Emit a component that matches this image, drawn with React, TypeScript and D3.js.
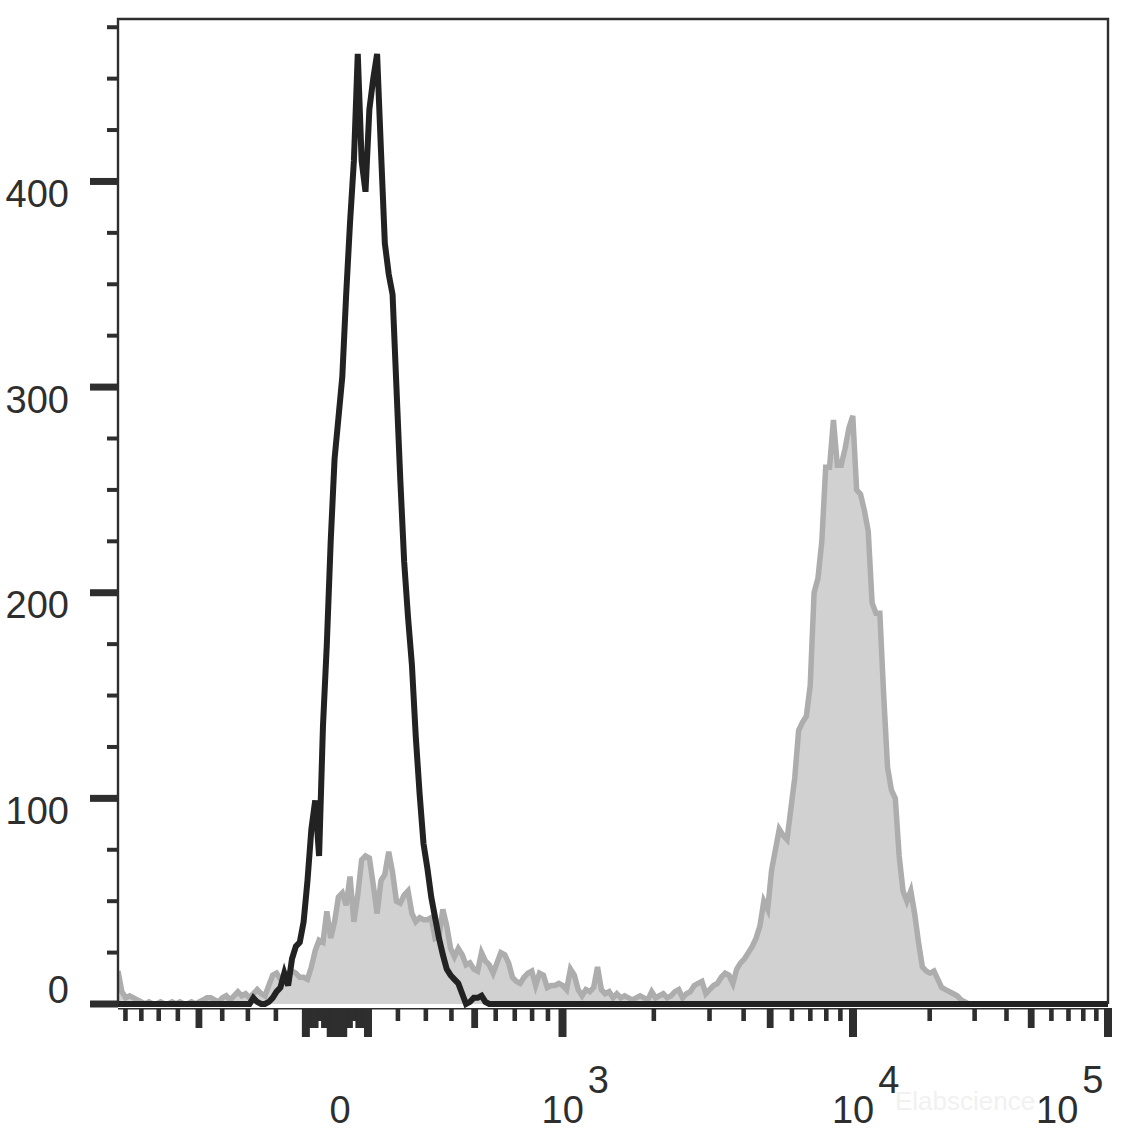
import React, { useRef, useEffect } from "react";
import * as d3 from "d3";

// histogram counts, one value per display channel (256 channels across the axis)
const channelCount = 256;

// unstained / isotype control (black line), channels 33..96
const blackStart = 33;
const blackCounts = [
  0, 0, 3, 1, 0, 0, 1, 3, 6, 8,
  15, 9, 22, 28, 30, 40, 60, 85, 99, 72,
  135, 175, 225, 265, 285, 305, 345, 380, 410, 462,
  410, 395, 435, 450, 462, 415, 370, 355, 345, 300,
  255, 215, 188, 165, 130, 102, 78, 66, 52, 42,
  32, 24, 17, 14, 12, 10, 5, 0, 1, 3,
  3, 4, 1, 0,
];

// stained sample (grey filled), channels 0..220
const grayStart = 0;
const grayCounts = [
  16, 6, 3, 4, 3, 2, 1, 0, 1, 0,
  0, 1, 0, 0, 1, 0, 1, 0, 0, 1,
  0, 1, 2, 3, 3, 2, 1, 3, 4, 2,
  4, 6, 4, 5, 3, 5, 7, 5, 4, 9,
  14, 15, 12, 14, 15, 16, 15, 13, 13, 12,
  18, 26, 31, 30, 45, 32, 40, 52, 54, 48,
  62, 40, 53, 70, 72, 71, 58, 44, 60, 63,
  74, 64, 50, 49, 53, 55, 44, 40, 42, 41,
  41, 42, 32, 33, 46, 38, 27, 23, 27, 24,
  19, 20, 17, 16, 25, 21, 19, 15, 20, 25,
  24, 20, 13, 11, 10, 13, 15, 16, 9, 15,
  14, 8, 9, 9, 10, 9, 7, 17, 14, 7,
  4, 7, 6, 8, 18, 7, 5, 6, 3, 5,
  3, 4, 3, 2, 3, 4, 3, 2, 6, 3,
  4, 5, 3, 4, 6, 7, 3, 5, 6, 9,
  10, 11, 5, 7, 9, 10, 13, 15, 14, 10,
  17, 20, 22, 25, 28, 32, 38, 50, 46, 65,
  75, 85, 82, 80, 95, 110, 133, 137, 140, 155,
  200, 207, 225, 261, 261, 284, 262, 262, 270, 280,
  286, 250, 248, 240, 230, 195, 190, 190, 150, 115,
  104, 100, 72, 55, 50, 55, 44, 30, 18, 16,
  15, 16, 12, 8, 7, 6, 5, 4, 2, 1,
  0,
];

// y axis
const yMax = 479;
const yMajorTicks = [0, 100, 200, 300, 400];
const yMinorTicks = [25, 50, 75, 125, 150, 175, 225, 250, 275, 325, 350, 375, 425, 450, 475];

// x axis (biexponential display), tick values
const xAnchorValues = [-950, 0, 1000, 3000, 10000, 100000];
const xLongTicks = [-100, -20, -10, 0, 10, 20, 100, 1000, 10000, 100000];
const xMidTicks = [-500, -90, -80, -70, -40, -30, 30, 40, 70, 80, 90, 500, 5000, 50000];
const xShortTicks = [
  -900, -800, -700, -600, -400, -300, -200, -60, -50, 50, 60,
  200, 300, 400, 600, 700, 800, 900,
  2000, 3000, 4000, 6000, 7000, 8000, 9000,
  20000, 30000, 40000, 60000, 70000, 80000, 90000,
];
const xLabelValues = [0, 1000, 10000, 100000];
const xLabelExps = ["", "3", "4", "5"];

const FONT = "'Liberation Sans', Arial, sans-serif";
const INK = "#2e2e2e";

const App: React.FC = () => {
  const ref = useRef<SVGSVGElement | null>(null);

  useEffect(() => {
    if (!ref.current) return;
    const svg = d3.select(ref.current);
    svg.selectAll("*").remove();

    const width = 1132;
    const height = 1140;
    const left = 118;
    const right = 1108;
    const top = 19;
    const bottom = 1004;
    const plotW = right - left;

    svg.attr("width", width).attr("height", height);

    const y = d3.scaleLinear().domain([0, yMax]).range([bottom, top]);
    const xCh = d3.scaleLinear().domain([0, channelCount]).range([left, right]);

    const biex = (v: number) => Math.asinh(v / 500);
    const anchorFrac = [0, 0.2212, 0.449, 0.5975, 0.7424, 1];
    const xDisp = d3
      .scaleLinear()
      .domain(xAnchorValues.map(biex))
      .range(anchorFrac.map((f) => left + f * plotW));
    const x = (v: number) => xDisp(biex(v));

    // clip for histograms
    svg
      .append("defs")
      .append("clipPath")
      .attr("id", "plotClip")
      .append("rect")
      .attr("x", left)
      .attr("y", top)
      .attr("width", plotW)
      .attr("height", bottom - top + 6);

    const g = svg.append("g").attr("clip-path", "url(#plotClip)");

    // grey histogram
    const grayPts: [number, number][] = grayCounts.map((c, i) => [grayStart + i, c]);
    grayPts.push([channelCount, 0]);

    const area = d3
      .area<[number, number]>()
      .x((d) => xCh(d[0]))
      .y0(y(0))
      .y1((d) => y(d[1]));
    const line = d3
      .line<[number, number]>()
      .x((d) => xCh(d[0]))
      .y((d) => y(d[1]));

    g.append("path").attr("d", area(grayPts)!).attr("fill", "#d1d1d1");
    g.append("path")
      .attr("d", line(grayPts)!)
      .attr("fill", "none")
      .attr("stroke", "#adadad")
      .attr("stroke-width", 5.5)
      .attr("stroke-linejoin", "miter");

    // black histogram
    const blackPts: [number, number][] = [[0, 0]];
    blackCounts.forEach((c, i) => blackPts.push([blackStart + i, c]));
    blackPts.push([channelCount, 0]);
    g.append("path")
      .attr("d", line(blackPts)!)
      .attr("fill", "none")
      .attr("stroke", "#222")
      .attr("stroke-width", 6)
      .attr("stroke-linejoin", "miter");

    // frame
    svg
      .append("path")
      .attr("d", `M${left},${bottom}V${top}H${right}V${bottom}`)
      .attr("fill", "none")
      .attr("stroke", INK)
      .attr("stroke-width", 2.4);

    // y ticks
    svg
      .selectAll(".ymin")
      .data(yMinorTicks)
      .enter()
      .append("line")
      .attr("x1", left - 11)
      .attr("x2", left)
      .attr("y1", (d) => y(d))
      .attr("y2", (d) => y(d))
      .attr("stroke", INK)
      .attr("stroke-width", 4);
    svg
      .selectAll(".ymaj")
      .data(yMajorTicks)
      .enter()
      .append("line")
      .attr("x1", left - 28)
      .attr("x2", left)
      .attr("y1", (d) => y(d))
      .attr("y2", (d) => y(d))
      .attr("stroke", INK)
      .attr("stroke-width", 7);
    svg
      .selectAll(".ylab")
      .data(yMajorTicks)
      .enter()
      .append("text")
      .attr("x", 69)
      .attr("y", (d) => (d === 0 ? y(d) - 1 : y(d) + 25.5))
      .attr("text-anchor", "end")
      .style("font-family", FONT)
      .style("font-size", "38px")
      .style("fill", INK)
      .text((d) => String(d));

    // x axis line and ticks
    const axisY = 1008;
    svg
      .append("line")
      .attr("x1", left)
      .attr("x2", right)
      .attr("y1", axisY + 0.7)
      .attr("y2", axisY + 0.7)
      .attr("stroke", INK)
      .attr("stroke-width", 1.5);

    const tickSets: [number[], number, number][] = [
      [xShortTicks, 13, 4.6],
      [xMidTicks, 20, 6.8],
      [xLongTicks, 29, 8],
    ];
    tickSets.forEach(([vals, len, w], k) => {
      svg
        .selectAll(`.xt${k}`)
        .data(vals)
        .enter()
        .append("line")
        .attr("class", `xt${k}`)
        .attr("x1", (d) => x(d))
        .attr("x2", (d) => x(d))
        .attr("y1", axisY)
        .attr("y2", axisY + len)
        .attr("stroke", INK)
        .attr("stroke-width", w);
    });

    // watermark (kept clear of the axis labels)
    svg
      .append("text")
      .attr("x", 895)
      .attr("y", 1110)
      .style("font-family", FONT)
      .style("font-size", "26px")
      .style("fill", "#f1f1f1")
      .text("Elabscience");

    // x labels
    xLabelValues.forEach((v, i) => {
      const exp = xLabelExps[i];
      if (!exp) {
        svg
          .append("text")
          .attr("x", x(v) + 3)
          .attr("y", 1123)
          .attr("text-anchor", "middle")
          .style("font-family", FONT)
          .style("font-size", "38px")
          .style("fill", INK)
          .text("0");
        return;
      }
      const start = Math.min(x(v) - 21, right - 72);
      const t = svg
        .append("text")
        .attr("x", start)
        .attr("y", 1123)
        .style("font-family", FONT)
        .style("font-size", "38px")
        .style("fill", INK);
      t.append("tspan").text("10");
      t.append("tspan").attr("dx", 4).attr("dy", -30).text(exp);
    });
  }, []);

  return (
    <svg
      ref={ref}
      style={{ position: "absolute", left: 0, top: 0, background: "#fff" }}
    />
  );
};

export default App;
